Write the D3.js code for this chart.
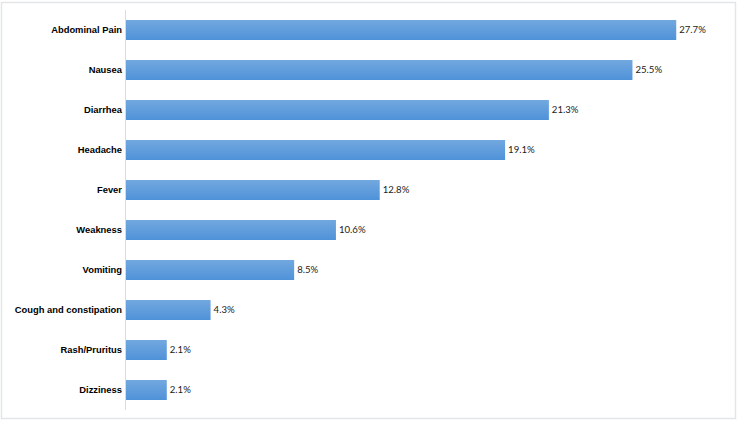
<!DOCTYPE html>
<html lang="en">
<head>
<meta charset="UTF-8">
<title>Symptoms</title>
<script src="https://cdn.jsdelivr.net/npm/d3@7"></script>
<style>
    body { margin: 0; background: #fff; }
    .cat { font-family: "Liberation Sans", Arial, sans-serif; font-weight: bold; font-size: 9.4px; fill: #000; }
    .val { font-family: Lato, sans-serif; font-size: 9.6px; fill: #222; }
</style>
</head>
<body>
<script>
    const symptoms = ["Abdominal Pain", "Nausea", "Diarrhea", "Headache", "Fever",
        "Weakness", "Vomiting", "Cough and constipation", "Rash/Pruritus", "Dizziness"];
    const percents = [27.7, 25.5, 21.3, 19.1, 12.8, 10.6, 8.5, 4.3, 2.1, 2.1];

    const width = 740, height = 421;
    const svg = d3.select("body").append("svg")
        .attr("width", width)
        .attr("height", height);

    // outer frame
    svg.append("rect")
        .attr("x", 1.5).attr("y", 2.5)
        .attr("width", 734).attr("height", 416)
        .attr("fill", "#fff")
        .attr("stroke", "#e3e6e8")
        .attr("stroke-width", 1.5);

    const grad = svg.append("defs").append("linearGradient")
        .attr("id", "barGrad")
        .attr("x1", 0).attr("y1", 0).attr("x2", 0).attr("y2", 1);
    grad.append("stop").attr("offset", "0%").attr("stop-color", "#72a8df");
    grad.append("stop").attr("offset", "100%").attr("stop-color", "#4f92d9");

    const x = d3.scaleLinear().domain([0, 30]).range([125, 722]);
    const y = d3.scaleBand().domain(symptoms).range([10, 410])
        .paddingInner(0.5).paddingOuter(0.25);

    const data = symptoms.map((s, i) => ({ name: s, value: percents[i] }));

    svg.selectAll(".bar")
        .data(data)
        .enter()
        .append("rect")
        .attr("class", "bar")
        .attr("x", x(0))
        .attr("y", d => y(d.name))
        .attr("width", d => x(d.value) - x(0))
        .attr("height", y.bandwidth())
        .attr("fill", "url(#barGrad)");

    // vertical axis line
    svg.append("line")
        .attr("x1", x(0) + 0.5).attr("x2", x(0) + 0.5)
        .attr("y1", 10).attr("y2", 410)
        .attr("stroke", "#d9dde0");

    svg.selectAll(".cat")
        .data(data)
        .enter()
        .append("text")
        .attr("class", "cat")
        .attr("x", x(0) - 3)
        .attr("y", d => y(d.name) + y.bandwidth() / 2)
        .attr("dy", "0.35em")
        .attr("text-anchor", "end")
        .text(d => d.name);

    svg.selectAll(".val")
        .data(data)
        .enter()
        .append("text")
        .attr("class", "val")
        .attr("x", d => x(d.value) + 3)
        .attr("y", d => y(d.name) + y.bandwidth() / 2)
        .attr("dy", "0.35em")
        .text(d => d.value.toFixed(1) + "%");
</script>
</body>
</html>
